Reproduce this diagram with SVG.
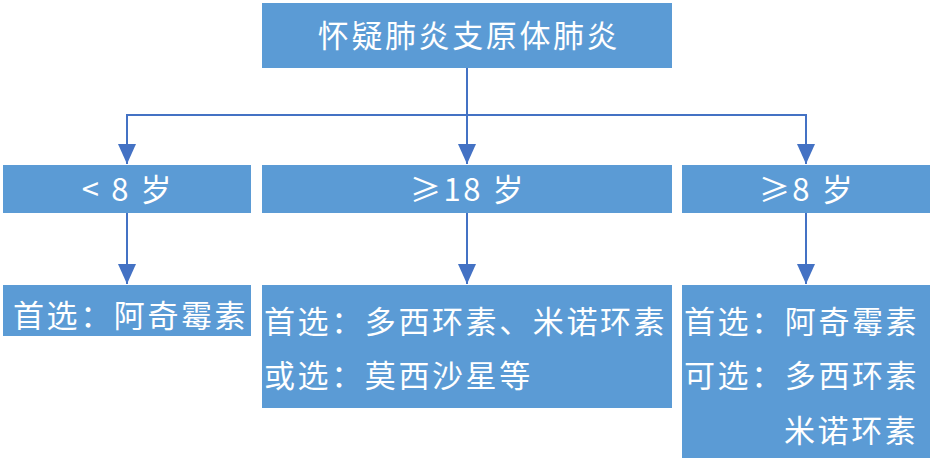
<svg xmlns="http://www.w3.org/2000/svg" width="934" height="462" viewBox="0 0 934 462">
<defs>
<style>
.box{fill:#5B9BD5}
.t{font-family:"Noto Sans CJK SC","Noto Sans",sans-serif;font-size:31px;fill:#FFFFFF;letter-spacing:2.6px}
.c{text-anchor:middle}
.ln{stroke:#4472C4;stroke-width:2;fill:none}
</style>
<marker id="arr" markerWidth="20" markerHeight="18" refX="20" refY="9" orient="auto" markerUnits="userSpaceOnUse" viewBox="0 0 20 18">
<path d="M0,0 L20,9 L0,18 Z" fill="#4472C4"/>
</marker>
</defs>
<g id="connectors">
<polyline class="ln" points="467,68 467,115 127,115 127,164" marker-end="url(#arr)"/>
<line class="ln" x1="467" y1="115" x2="467" y2="164" marker-end="url(#arr)"/>
<polyline class="ln" points="467,115 806,115 806,164" marker-end="url(#arr)"/>
<line class="ln" x1="127" y1="213" x2="127" y2="284" marker-end="url(#arr)"/>
<line class="ln" x1="467" y1="213" x2="467" y2="284" marker-end="url(#arr)"/>
<line class="ln" x1="806" y1="213" x2="806" y2="284" marker-end="url(#arr)"/>
</g>
<g id="top">
<rect class="box" x="262" y="3" width="410" height="65"/>
<text class="t c" x="469" y="47">怀疑肺炎支原体肺炎</text>
</g>
<g id="lt8">
<rect class="box" x="3" y="165" width="248" height="48"/>
<text class="t c" x="128" y="201">&lt; 8 岁</text>
</g>
<g id="ge18">
<rect class="box" x="262" y="165" width="410" height="48"/>
<text class="t c" x="468" y="201">≥18 岁</text>
</g>
<g id="ge8">
<rect class="box" x="682" y="165" width="248" height="48"/>
<text class="t c" x="807" y="201">≥8 岁</text>
</g>
<g id="r1">
<rect class="box" x="3" y="285" width="248" height="51"/>
<text class="t" x="13" y="327">首选：阿奇霉素</text>
</g>
<g id="r2">
<rect class="box" x="262" y="285" width="410" height="123"/>
<text class="t" x="264" y="333">首选：多西环素、米诺环素</text>
<text class="t" x="264" y="387">或选：莫西沙星等</text>
</g>
<g id="r3">
<rect class="box" x="682" y="285" width="248" height="173"/>
<text class="t" x="684" y="333">首选：阿奇霉素</text>
<text class="t" x="684" y="387">可选：多西环素</text>
<text class="t" x="784" y="442">米诺环素</text>
</g>
</svg>
